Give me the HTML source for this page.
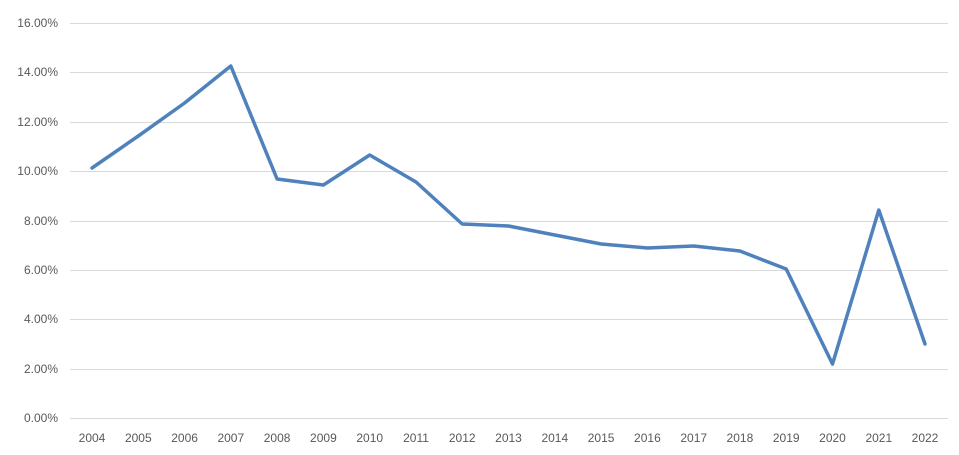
<!DOCTYPE html>
<html><head><meta charset="utf-8"><style>
body{margin:0;background:#fff;}
svg{display:block;font-family:"Liberation Sans",sans-serif;font-size:12px;fill:#595959;}
</style></head><body>
<svg width="959" height="455" viewBox="0 0 959 455">
<g stroke="#d9d9d9" stroke-width="1">
<line x1="70" x2="948" y1="23.5" y2="23.5"/>
<line x1="70" x2="948" y1="72.5" y2="72.5"/>
<line x1="70" x2="948" y1="122.5" y2="122.5"/>
<line x1="70" x2="948" y1="171.5" y2="171.5"/>
<line x1="70" x2="948" y1="221.5" y2="221.5"/>
<line x1="70" x2="948" y1="270.5" y2="270.5"/>
<line x1="70" x2="948" y1="319.5" y2="319.5"/>
<line x1="70" x2="948" y1="369.5" y2="369.5"/>
<line x1="70" x2="948" y1="418.5" y2="418.5"/>
</g>
<g text-anchor="end">
<text x="58" y="27">16.00%</text>
<text x="58" y="76">14.00%</text>
<text x="58" y="126">12.00%</text>
<text x="58" y="175">10.00%</text>
<text x="58" y="225">8.00%</text>
<text x="58" y="274">6.00%</text>
<text x="58" y="323">4.00%</text>
<text x="58" y="373">2.00%</text>
<text x="58" y="422">0.00%</text>
</g>
<g text-anchor="middle">
<text x="92" y="442">2004</text><text x="138.3" y="442">2005</text><text x="184.6" y="442">2006</text>
<text x="230.8" y="442">2007</text><text x="277.1" y="442">2008</text><text x="323.4" y="442">2009</text>
<text x="369.7" y="442">2010</text><text x="416" y="442">2011</text><text x="462.2" y="442">2012</text>
<text x="508.5" y="442">2013</text><text x="554.8" y="442">2014</text><text x="601.1" y="442">2015</text>
<text x="647.4" y="442">2016</text><text x="693.7" y="442">2017</text><text x="739.9" y="442">2018</text>
<text x="786.2" y="442">2019</text><text x="832.5" y="442">2020</text><text x="878.8" y="442">2021</text>
<text x="925" y="442">2022</text>
</g>
<polyline fill="none" stroke="#4f81bd" stroke-width="3.5" stroke-linejoin="round" stroke-linecap="round"
points="92,168 138.3,136 184.6,103 230.8,66 277.1,179 323.4,185 369.7,155 416,182 462.2,224 508.5,226 554.8,235 601.1,244 647.4,248 693.7,246 739.9,251 786.2,269 832.5,364 878.8,210 925,344"/>
</svg>
</body></html>
